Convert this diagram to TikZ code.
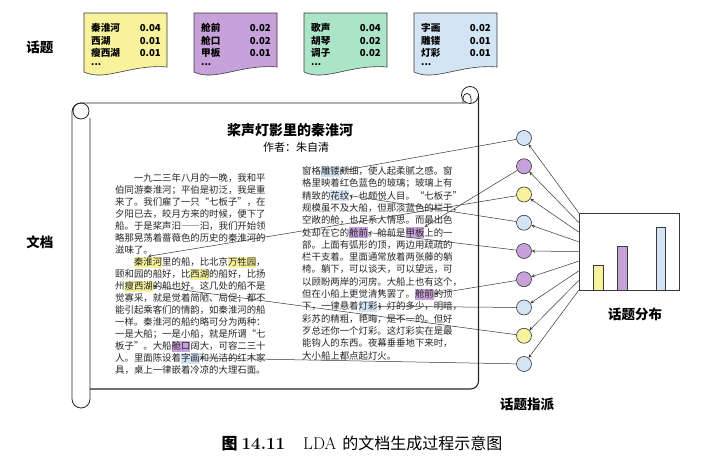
\documentclass[tikz,border=0pt]{standalone}
\usepackage{fontspec}
\usetikzlibrary{calc}
\newfontfamily\cjk{Noto Sans CJK SC}
\newfontfamily\bodyfont[RawFeature=+fwid]{Noto Sans CJK SC}

\definecolor{topicY}{HTML}{F8F29C}
\definecolor{topicP}{HTML}{C7A1D9}
\definecolor{topicG}{HTML}{ABE4C7}
\definecolor{topicB}{HTML}{D3E4F4}
\definecolor{inkgray}{HTML}{3A3A3A}

\tikzset{
  topiccard/.style={draw=inkgray, line width=0.6pt},
  cardword/.style={anchor=west, inner sep=0pt, font=\cjk\bfseries\fontsize{9.6}{10}\selectfont},
  cardprob/.style={anchor=east, inner sep=0pt, font=\cjk\bfseries\fontsize{9.6}{10}\selectfont},
  sidelabel/.style={inner sep=0pt, font=\cjk\bfseries\fontsize{13.5}{14}\selectfont},
  bodyline/.style={anchor=west, inner sep=0pt, text=black!85, font=\bodyfont\fontsize{9.4}{10}\selectfont},
  wordhl/.style={anchor=west, inner sep=0pt, minimum height=11pt},
  topicdot/.style={circle, draw=inkgray, line width=0.6pt, minimum size=15pt, inner sep=0pt},
  pick/.style={->, line width=0.5pt, black!80},
  scrolledge/.style={line width=0.8pt, black!85},
}

\begin{document}
\begin{tikzpicture}[x=1pt, y=-1pt, >=stealth]
  \def\cw{9.4}      % width of one character
  \def\xL{115}  \def\yL{178}  \def\sL{12.0}
  \def\xR{302}  \def\yR{171}  \def\sR{12.3}
  \def\dotx{524}  \def\doty{138}  \def\dotgap{28.25}

  \useasboundingbox (0,0) rectangle (716,463);

  % ----- topics -----
  \node[sidelabel] (lbl-topic) at (40,47) {话题};
  \begin{scope}
    \draw[topiccard, fill=topicY] (84,13) -- (167,13) -- (167,67)
      .. controls (130,64) and (105,82) .. (84,72) -- cycle;
    \node[cardword] (a1) at (91,28) {秦淮河};  \node[cardprob] (a1p) at (161,28) {0.04};
    \node[cardword] (a2) at (91,41) {西湖};    \node[cardprob] (a2p) at (161,41) {0.01};
    \node[cardword] (a3) at (91,53) {瘦西湖};  \node[cardprob] (a3p) at (161,53) {0.01};
    \node[cardword] (a4) at (91,65) {...};
  \end{scope}
  \begin{scope}[shift={(110,0)}]
    \draw[topiccard, fill=topicP] (84,13) -- (167,13) -- (167,67)
      .. controls (130,64) and (105,82) .. (84,72) -- cycle;
    \node[cardword] (b1) at (91,28) {舱前};  \node[cardprob] (b1p) at (161,28) {0.02};
    \node[cardword] (b2) at (91,41) {舱口};  \node[cardprob] (b2p) at (161,41) {0.02};
    \node[cardword] (b3) at (91,53) {甲板};  \node[cardprob] (b3p) at (161,53) {0.01};
    \node[cardword] (b4) at (91,65) {...};
  \end{scope}
  \begin{scope}[shift={(220,0)}]
    \draw[topiccard, fill=topicG] (84,13) -- (167,13) -- (167,67)
      .. controls (130,64) and (105,82) .. (84,72) -- cycle;
    \node[cardword] (c1w) at (91,28) {歌声};  \node[cardprob] (c1p) at (161,28) {0.04};
    \node[cardword] (c2w) at (91,41) {胡琴};  \node[cardprob] (c2p) at (161,41) {0.02};
    \node[cardword] (c3w) at (91,53) {调子};  \node[cardprob] (c3p) at (161,53) {0.02};
    \node[cardword] (c4w) at (91,65) {...};
  \end{scope}
  \begin{scope}[shift={(330,0)}]
    \draw[topiccard, fill=topicB] (84,13) -- (167,13) -- (167,67)
      .. controls (130,64) and (105,82) .. (84,72) -- cycle;
    \node[cardword] (d1) at (91,28) {字画};  \node[cardprob] (d1p) at (161,28) {0.02};
    \node[cardword] (d2) at (91,41) {雕镂};  \node[cardprob] (d2p) at (161,41) {0.01};
    \node[cardword] (d3) at (91,53) {灯彩};  \node[cardprob] (d3p) at (161,53) {0.01};
    \node[cardword] (d4) at (91,65) {...};
  \end{scope}

  % ----- document -----
  \node[sidelabel] (lbl-doc) at (40,242) {文档};
  \draw[scrolledge, rounded corners=9pt] (466,103) -- (72,103) -- (72,408) -- (90,408) -- (90,118);
  \draw[scrolledge] (81,111) circle[radius=8pt];
  \draw[scrolledge, line width=1.1pt, rounded corners=8pt] (478.5,96) -- (478.5,389) -- (90,389);
  \draw[scrolledge] (470,95) circle[radius=8.5pt];
  \draw[scrolledge] (463,103) -- (463,98) .. controls (463,92) and (471,92) .. (471,98) -- (471,103);

  \node[font=\cjk\bfseries\fontsize{14}{14}\selectfont] (title) at (290,130) {桨声灯影里的秦淮河};
  \node[font=\cjk\fontsize{11}{11}\selectfont] (author) at (296,147) {作者：朱自清};

  % highlighted words (under the text)
  \node[wordhl, fill=topicY, minimum width={3*\cw*1pt}] (w-qhh) at (\xL+2*\cw, \yL+7*\sL) {};
  \node[wordhl, fill=topicY, minimum width={3*\cw*1pt}] (w-wsy) at (\xL+12*\cw, \yL+7*\sL) {};
  \node[wordhl, fill=topicY, minimum width={2*\cw*1pt}] (w-xh) at (\xL+8*\cw, \yL+8*\sL) {};
  \node[wordhl, fill=topicY, minimum width={3*\cw*1pt}] (w-sxh) at (\xL+1*\cw, \yL+9*\sL) {};
  \node[wordhl, fill=topicP, minimum width={2*\cw*1pt}] (w-ck) at (\xL+6*\cw, \yL+14*\sL) {};
  \node[wordhl, fill=topicB, minimum width={2*\cw*1pt}] (w-zh) at (\xL+7*\cw, \yL+15*\sL) {};
  \node[wordhl, fill=topicB, minimum width={2*\cw*1pt}] (w-dl) at (\xR+2*\cw, \yR) {};
  \node[wordhl, fill=topicB, minimum width={2*\cw*1pt}] (w-hw) at (\xR+3*\cw, \yR+2*\sR) {};
  \node[wordhl, fill=topicP, minimum width={2*\cw*1pt}] (w-cq1) at (\xR+5*\cw, \yR+5*\sR) {};
  \node[wordhl, fill=topicP, minimum width={2*\cw*1pt}] (w-jb) at (\xR+11*\cw, \yR+5*\sR) {};
  \node[wordhl, fill=topicP, minimum width={2*\cw*1pt}] (w-cq2) at (\xR+12*\cw, \yR+10*\sR) {};
  \node[wordhl, fill=topicB, minimum width={2*\cw*1pt}] (w-dc) at (\xR+6*\cw, \yR+11*\sR) {};

  % left column
  \node[bodyline] (L1) at (\xL+2*\cw, \yL) {一九二三年八月的一晚，我和平};
  \node[bodyline] (L2) at (\xL, \yL+\sL) {伯同游秦淮河；平伯是初泛，我是重};
  \node[bodyline] (L3) at (\xL, \yL+2*\sL) {来了。我们雇了一只“七板子”，在};
  \node[bodyline] (L4) at (\xL, \yL+3*\sL) {夕阳已去，皎月方来的时候，便下了};
  \node[bodyline] (L5) at (\xL, \yL+4*\sL) {船。于是桨声汩——汩，我们开始领};
  \node[bodyline] (L6) at (\xL, \yL+5*\sL) {略那晃荡着蔷薇色的历史的秦淮河的};
  \node[bodyline] (L7) at (\xL, \yL+6*\sL) {滋味了。};
  \node[bodyline] (L8) at (\xL+2*\cw, \yL+7*\sL) {秦淮河里的船，比北京万牲园，};
  \node[bodyline] (L9) at (\xL, \yL+8*\sL) {颐和园的船好，比西湖的船好，比扬};
  \node[bodyline] (L10) at (\xL, \yL+9*\sL) {州瘦西湖的船也好。这几处的船不是};
  \node[bodyline] (L11) at (\xL, \yL+10*\sL) {觉寡采，就是觉着简陋、局促；都不};
  \node[bodyline] (L12) at (\xL, \yL+11*\sL) {能引起乘客们的情韵，如秦淮河的船};
  \node[bodyline] (L13) at (\xL, \yL+12*\sL) {一样。秦淮河的船约略可分为两种：};
  \node[bodyline] (L14) at (\xL, \yL+13*\sL) {一是大船；一是小船，就是所谓“七};
  \node[bodyline] (L15) at (\xL, \yL+14*\sL) {板子”。大船舱口阔大，可容二三十};
  \node[bodyline] (L16) at (\xL, \yL+15*\sL) {人。里面陈设着字画和光洁的红木家};
  \node[bodyline] (L17) at (\xL, \yL+16*\sL) {具，桌上一律嵌着冷凉的大理石面。};

  % right column
  \node[bodyline] (R1) at (\xR, \yR) {窗格雕镂颇细，使人起柔腻之感。窗};
  \node[bodyline] (R2) at (\xR, \yR+\sR) {格里映着红色蓝色的玻璃；玻璃上有};
  \node[bodyline] (R3) at (\xR, \yR+2*\sR) {精致的花纹，也颇悦人目。“七板子”};
  \node[bodyline] (R4) at (\xR, \yR+3*\sR) {规模虽不及大船，但那淡蓝色的栏干，};
  \node[bodyline] (R5) at (\xR, \yR+4*\sR) {空敞的舱，也足系人情思。而最出色};
  \node[bodyline] (R6) at (\xR, \yR+5*\sR) {处却在它的舱前。舱前是甲板上的一};
  \node[bodyline] (R7) at (\xR, \yR+6*\sR) {部。上面有弧形的顶，两边用疏疏的};
  \node[bodyline] (R8) at (\xR, \yR+7*\sR) {栏干支着。里面通常放着两张藤的躺};
  \node[bodyline] (R9) at (\xR, \yR+8*\sR) {椅。躺下，可以谈天，可以望远，可};
  \node[bodyline] (R10) at (\xR, \yR+9*\sR) {以顾盼两岸的河房。大船上也有这个，};
  \node[bodyline] (R11) at (\xR, \yR+10*\sR) {但在小船上更觉清隽罢了。舱前的顶};
  \node[bodyline] (R12) at (\xR, \yR+11*\sR) {下，一律悬着灯彩；灯的多少，明暗，};
  \node[bodyline] (R13) at (\xR, \yR+12*\sR) {彩苏的精粗，艳晦，是不一的。但好};
  \node[bodyline] (R14) at (\xR, \yR+13*\sR) {歹总还你一个灯彩。这灯彩实在是最};
  \node[bodyline] (R15) at (\xR, \yR+14*\sR) {能钩人的东西。夜幕垂垂地下来时，};
  \node[bodyline] (R16) at (\xR, \yR+15*\sR) {大小船上都点起灯火。};

  % ----- topic assignment -----
  \node[topicdot, fill=topicB] (z1) at (\dotx, \doty) {};
  \node[topicdot, fill=topicP] (z2) at (\dotx, \doty+\dotgap) {};
  \node[topicdot, fill=topicY] (z3) at (\dotx, \doty+2*\dotgap) {};
  \node[topicdot, fill=topicB] (z4) at (\dotx, \doty+3*\dotgap) {};
  \node[topicdot, fill=topicP] (z5) at (\dotx, \doty+4*\dotgap) {};
  \node[topicdot, fill=topicP] (z6) at (\dotx, \doty+5*\dotgap) {};
  \node[topicdot, fill=topicB] (z7) at (\dotx, \doty+6*\dotgap) {};
  \node[topicdot, fill=topicY] (z8) at (\dotx, \doty+7*\dotgap) {};
  \node[topicdot, fill=topicB] (z9) at (\dotx, \doty+8*\dotgap) {};
  \node[sidelabel] (lbl-pick) at (527,404) {话题指派};

  \draw[pick] (z1) -- (w-dl.east);
  \draw[pick] (z2) -- (w-jb.north east);
  \draw[pick] (z3) -- (w-qhh.north);
  \draw[pick] (z4) -- (w-hw.east);
  \draw[pick] (z5) -- (w-cq1.east);
  \draw[pick] (z6) -- (w-cq2.east);
  \draw[pick] (z7) -- (w-dc.east);
  \draw[pick] (z8) -- (w-sxh.east);
  \draw[pick] (z9) -- (w-zh.east);

  % ----- topic distribution -----
  \node[draw=inkgray, line width=0.7pt, minimum width=100pt, minimum height=77pt, inner sep=0pt]
    (dist) at (629,251.5) {};
  \draw[draw=inkgray, line width=0.6pt, fill=topicY] (593,265) rectangle (603,290);
  \draw[draw=inkgray, line width=0.6pt, fill=topicP] (617,246) rectangle (627,290);
  \draw[draw=inkgray, line width=0.6pt, fill=topicB] (656,227) rectangle (665,290);
  \node[sidelabel] (lbl-dist) at (635,314) {话题分布};

  \draw[pick] ($(dist.north west)!0.000!(dist.south west)$) -- (z1);
  \draw[pick] ($(dist.north west)!0.125!(dist.south west)$) -- (z2);
  \draw[pick] ($(dist.north west)!0.250!(dist.south west)$) -- (z3);
  \draw[pick] ($(dist.north west)!0.375!(dist.south west)$) -- (z4);
  \draw[pick] ($(dist.north west)!0.500!(dist.south west)$) -- (z5);
  \draw[pick] ($(dist.north west)!0.625!(dist.south west)$) -- (z6);
  \draw[pick] ($(dist.north west)!0.750!(dist.south west)$) -- (z7);
  \draw[pick] ($(dist.north west)!0.875!(dist.south west)$) -- (z8);
  \draw[pick] ($(dist.north west)!1.000!(dist.south west)$) -- (z9);

  % ----- caption -----
  \node[font=\fontsize{16}{16}\selectfont] (caption) at (362,443)
    {{\cjk\bfseries 图}\hspace{4pt}{\fontsize{17}{17}\selectfont\textbf{14.11}}\hspace{18pt}%
     {\fontsize{17}{17}\selectfont LDA}\hspace{6pt}{\cjk 的文档生成过程示意图}};
\end{tikzpicture}
\end{document}
